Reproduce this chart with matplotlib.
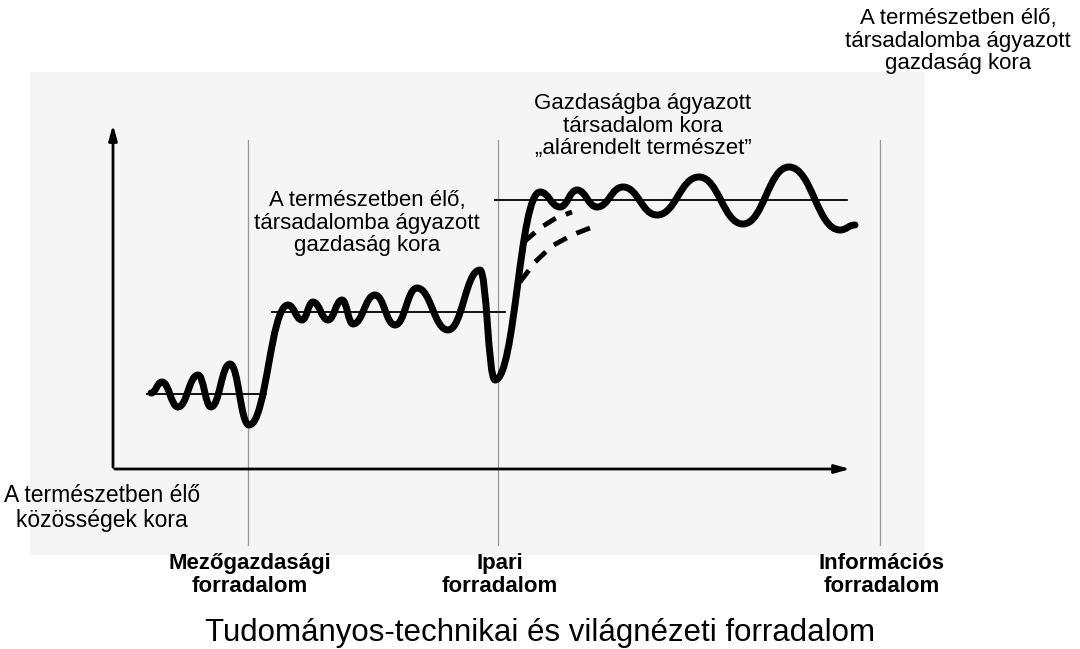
"""
Civilisation eras diagram: wavy development curve with revolution markers.
"""

import matplotlib.pyplot as plt
from matplotlib.path import Path
from matplotlib.patches import PathPatch, Rectangle

# Turning points of the main curve (time, level)
curve_t = [38, 49, 65, 85, 98, 117, 136, 175, 189, 200, 215, 229, 240, 262, 282,
           304, 335, 367, 382, 427, 447, 464, 484, 510, 544, 586, 630, 676, 727, 742]
curve_y = [76, 87, 62, 94, 62, 105, 44, 164, 149, 167, 149, 169, 145, 174, 144,
           181, 139, 199, 89, 277, 262, 279, 262, 282, 254, 292, 245, 302, 239, 244]

# Dashed alternative paths after the industrial revolution
dash1_t = [411, 427, 443, 459]
dash1_y = [227, 241, 251, 257]
dash2_t = [407, 422, 439, 459, 482]
dash2_y = [187, 207, 223, 234, 243]

# Horizontal mean levels of the three eras: (start, end, level)
levels = [(34, 153, 75), (159, 392, 157), (382, 734, 269)]

# Revolutions (time position) and their labels
rev_t = [135, 385, 767]
rev_labels = ["Mezőgazdasági\nforradalom", "Ipari\nforradalom", "Információs\nforradalom"]

sans = ['Liberation Sans', 'DejaVu Sans']
narrow = ['Liberation Sans Narrow', 'Liberation Sans', 'DejaVu Sans']

fig = plt.figure(figsize=(10.8, 6.49), dpi=100)
ax = fig.add_axes([0, 0, 1, 1])
ax.set_xlim(-113, 967)
ax.set_ylim(-180, 469)
ax.axis('off')

# faint scanned page behind the drawing
ax.add_patch(Rectangle((-83, -86), 895, 483, color='#f5f5f5', lw=0, zorder=0))

# axes with arrows
ax.annotate('', xy=(0, 347), xytext=(0, -1),
            arrowprops=dict(arrowstyle='-|>,head_length=0.9,head_width=0.25', lw=2, color='black'))
ax.annotate('', xy=(740, 0), xytext=(-1, 0),
            arrowprops=dict(arrowstyle='-|>,head_length=0.9,head_width=0.25', lw=2, color='black'))

# revolution markers
for t in rev_t:
    ax.plot([t, t], [329, -76], color='#999999', lw=0.9, zorder=1)

# mean levels
for x0, x1, lvl in levels:
    ax.plot([x0, x1], [lvl, lvl], color='black', lw=1.3, zorder=2)

# main wavy curve, smooth segments between turning points
verts = [(curve_t[0], curve_y[0])]
codes = [Path.MOVETO]
for i in range(1, len(curve_t)):
    t0, y0 = curve_t[i - 1], curve_y[i - 1]
    t1, y1 = curve_t[i], curve_y[i]
    dt = t1 - t0
    verts += [(t0 + dt * 0.45, y0), (t1 - dt * 0.45, y1), (t1, y1)]
    codes += [Path.CURVE4] * 3
ax.add_patch(PathPatch(Path(verts, codes), fill=False, lw=5, color='black',
                       capstyle='round', joinstyle='round', zorder=3))

ax.plot(dash1_t, dash1_y, color='black', lw=3.5, ls=(0, (3, 2.2)), zorder=3)
ax.plot(dash2_t, dash2_y, color='black', lw=3.5, ls=(0, (3, 2.2)), zorder=3)

# texts
era_txt = "A természetben élő,\ntársadalomba ágyazott\ngazdaság kora"
ax.text(845, 428, era_txt, ha='center', va='center', fontsize=16,
        family=sans, linespacing=1.1)
ax.text(254, 246, era_txt, ha='center', va='center', fontsize=16,
        family=sans, linespacing=1.1)
ax.text(530, 343, "Gazdaságba ágyazott\ntársadalom kora\n„alárendelt természet”",
        ha='center', va='center', fontsize=16, family=sans, linespacing=1.1)
ax.text(-11, -39, "A természetben élő\nközösségek kora", ha='center', va='center',
        fontsize=16.5, family=narrow, linespacing=1.1)

for t, lab in zip(rev_t, rev_labels):
    ax.text(t + 2, -106, lab, ha='center', va='center', fontsize=16,
            family=narrow, fontweight='bold', linespacing=1.15)

ax.text(427, -164, "Tudományos-technikai és világnézeti forradalom", ha='center',
        va='center', fontsize=22.5, family=sans)

fig.savefig('out.png', dpi=100)
